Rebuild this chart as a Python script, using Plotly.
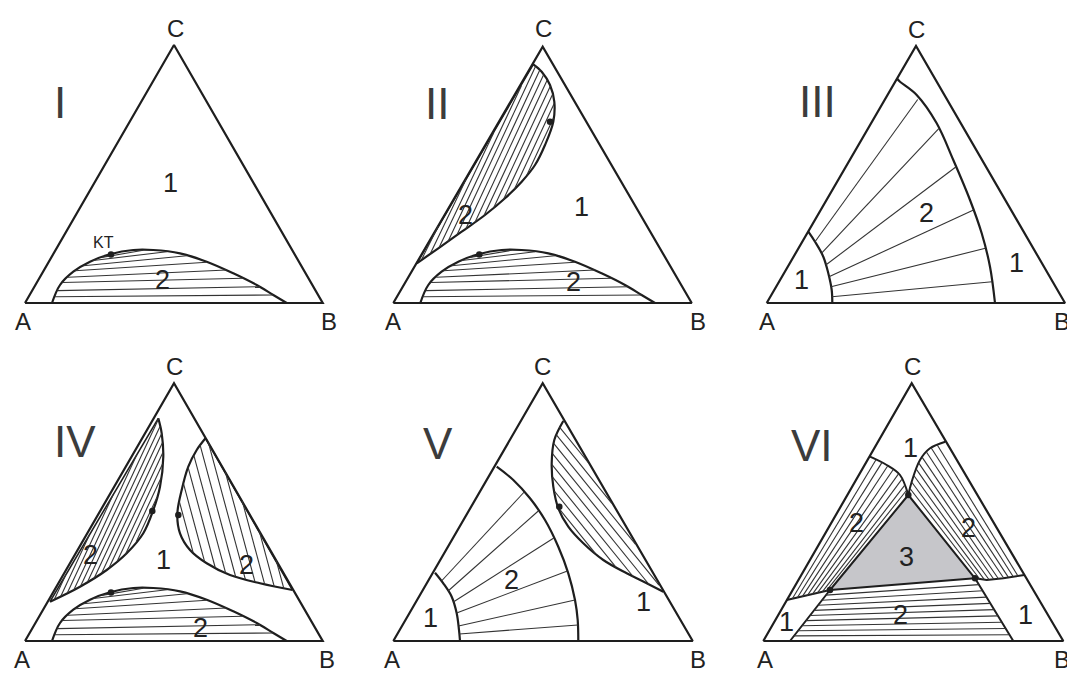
import plotly.graph_objects as go

W, H = 1075, 675
PAD = 8  # the page body offsets the figure by this much
INK = "#1e1e1e"
TIE = "#333333"
GREY = "#c6c6ca"

# triangle vertices of the six panels, picture pixels (A, B on the base, C on top)
PANEL = ["I", "II", "III", "IV", "V", "VI"]
AX = [25, 393.3, 766.7, 25, 393.3, 763.3]
AY = [303, 303, 303, 641, 641, 641]
BX = [322.7, 691.7, 1065, 322.7, 692.7, 1063.3]
CX = [174, 542.7, 916, 174, 542.7, 911.7]
CY = [45, 46.7, 46, 383.3, 383.3, 383.3]

# all curves below: u = px right of vertex A, v = px above the base

# bottom binodal (panels I, II, IV)
DOME_U = [27, 35, 48.3, 65, 85, 108.3, 128.3, 155, 181.7, 208.3, 231.7, 248.3, 261.7]
DOME_V = [0, 18, 31.3, 41.3, 48.7, 53, 53, 49.7, 41.3, 29.7, 18, 8, 0]
DOME_TIE_U0 = [29.8, 32.5, 37.5, 43, 50, 58.3, 68.3, 76.7]
DOME_TIE_V0 = [6.3, 12.4, 20.5, 25.7, 32.3, 37.3, 42.5, 45.6]
DOME_TIE_U1 = [248.3, 235, 218.3, 201.7, 181.7, 161.7, 141.7, 118.3]
DOME_TIE_V1 = [8, 16.3, 24.7, 33, 40.7, 47.3, 51.3, 52.7]
DOME_KT = (86, 48.5)

# panel II: lens along side AC
LENS2_U = [23.5, 45, 68.4, 91.7, 111.7, 128.4, 141.7, 151.7, 160, 161, 156.7, 148.4, 140, 23.5]
LENS2_V = [39.7, 54.7, 71.3, 88, 104.7, 121.3, 138, 158, 181.3, 201.3, 218, 231.3, 238.7, 39.7]
LENS2_TIE_U0 = [28.6, 37.1, 45.7, 54.7, 63.6, 72.6, 81.7, 90.6, 100.4, 110.2, 121.2, 133.5]
LENS2_TIE_V0 = [44.1, 49.6, 55.2, 61.6, 67.9, 74.3, 80.8, 87.2, 95.3, 103.5, 114.1, 127.7]
LENS2_TIE_U1 = [45, 72.8, 100.5, 128, 142.3, 146.5, 150.3, 153.8, 157, 159.2, 160.9, 160.2]
LENS2_TIE_V1 = [77.1, 123.7, 170.4, 217.1, 236.7, 232.9, 228.2, 222.7, 216.8, 208.5, 199.4, 184.9]
LENS2_CP = (156.7, 181.3)

# panel III: two boundary arcs and tie lines
ARC3A_U = [41.6, 48.3, 56.6, 61.6, 65, 65.6]
ARC3A_V = [71.3, 61.3, 46.3, 29.7, 13, 0]
ARC3B_U = [130, 133.3, 150, 170, 186.6, 203.3, 215, 223.3, 228.3]
ARC3B_V = [224.7, 221.3, 208, 179.7, 143, 103, 69.7, 36.3, 0]
TIE3_U0 = [48.3, 54.7, 59.1, 62.3, 64.3, 65.3]
TIE3_V0 = [61.3, 49.7, 38, 26.3, 16.3, 6.3]
TIE3_U1 = [151, 172.3, 189.4, 206.8, 218.7, 225.4]
TIE3_V1 = [203.5, 174.7, 136.3, 93, 54.7, 21.3]

# panel IV: lens along AC and lens along BC
LENS4L_U = [25, 55, 81.7, 101.7, 118.3, 128.3, 135, 138.3, 136.7, 133.3, 25]
LENS4L_V = [39.3, 54.3, 71, 87.7, 107.7, 131, 154.3, 184.3, 207.7, 222.7, 39.3]
LENS4L_TIE_U0 = [29.3, 35.8, 42.3, 48.9, 55.4, 62.5, 69.5, 76.6, 84, 92.2, 100.4, 111.2]
LENS4L_TIE_V0 = [41.5, 44.7, 47.9, 51.2, 54.6, 59, 63.4, 67.8, 72.9, 79.8, 86.6, 99.2]
LENS4L_TIE_U1 = [40.7, 64.4, 88.1, 111.8, 133.5, 135.1, 136.7, 137.4, 138, 137.5, 136, 132]
LENS4L_TIE_V1 = [65.9, 106, 146.2, 186.3, 222, 214.8, 207.5, 198.2, 188.8, 177, 163, 143.8]
LENS4L_CP = (127.3, 130)
LENS4R_U = [180.5, 171.7, 163.3, 156.7, 152.3, 155, 165, 181.7, 205, 235, 267.5, 180.5]
LENS4R_V = [202.7, 191, 174.3, 151, 126.7, 107.7, 91, 77.7, 66, 57.7, 51, 202.7]
LENS4R_TIE_U0 = [154.5, 158.5, 163.1, 168.9, 175.1, 183.4, 200.3, 217.3, 234.1, 251]
LENS4R_TIE_V0 = [138.9, 157.3, 173.6, 185.4, 195.8, 198.4, 169.1, 139.8, 110.6, 81.3]
LENS4R_TIE_U1 = [168.1, 179.6, 190.2, 200.6, 210.6, 220.3, 230, 239.7, 249.2, 258.8]
LENS4R_TIE_V1 = [88.6, 79.4, 73.5, 68.2, 64.5, 61.8, 59.1, 56.7, 54.7, 52.7]
LENS4R_CP = (153.3, 126)

# panel V
ARC5A_U = [41.7, 50, 58.4, 63.4, 65.7, 66.7]
ARC5A_V = [68.3, 57.7, 44.3, 27.7, 11, 0]
ARC5B_U = [103.4, 120, 136.7, 151.7, 165, 175, 181.7, 184.4, 185]
ARC5B_V = [174.3, 161, 142.7, 121, 94.3, 67.7, 41, 21, 0]
TIE5_U0 = [48.2, 54.8, 60, 63.3, 65.2, 66]
TIE5_V0 = [60, 50, 39, 28, 15, 7]
TIE5_U1 = [130.9, 145, 160.5, 174.1, 181.7, 184.5]
TIE5_V1 = [149, 130, 103, 70, 41, 16]
LENS5_U = [170, 161, 158.4, 160, 165, 175, 190, 210, 233.4, 253.4, 270, 170]
LENS5_V = [220, 201, 177.7, 154.3, 132.7, 114.3, 97.7, 81, 67.7, 57.7, 49.3, 220]
LENS5_TIE_U0 = [164.8, 161, 159.3, 158.5, 159.4, 160.6, 163.1, 166.2]
LENS5_TIE_V0 = [133.6, 150, 163.8, 176.6, 187.1, 197.4, 206.1, 213.9]
LENS5_TIE_U1 = [202, 222.8, 239.8, 255.7, 265.7, 242.1, 218.5, 194.9]
LENS5_TIE_V1 = [87.7, 73.7, 64.5, 56.5, 55.9, 96.8, 137.6, 178.5]
LENS5_CP = (166, 134.3)

# panel VI: three-phase triangle and its surroundings
TRI3_U = [145, 66.7, 211.7, 145]
TRI3_V = [146, 51, 62.7, 146]
VI_TL_U = [106.7, 123.4, 136.7, 145]
VI_TL_V = [184.3, 176, 166, 146]
VI_TR_U = [145, 148.4, 156.7, 166.7, 182]
VI_TR_V = [146, 159.3, 181, 192.7, 199.3]
VI_BL_U = [23.4, 46.7, 66.7, 26.7]
VI_BL_V = [41, 46, 51, 0]
VI_BR_U = [250, 211.7, 223.4, 240, 261]
VI_BR_V = [0, 62.7, 61, 62.7, 66]
VI_L_TIE_U0 = [29, 34, 39, 44, 49, 54, 59, 63]
VI_L_TIE_V0 = [42.2, 43.3, 44.4, 45.4, 46.6, 47.8, 49.1, 50.1]
VI_L_TIE_U1 = [112.7, 118.6, 124.5, 129.8, 135.2, 138.5, 141.1, 143.1]
VI_L_TIE_V1 = [181.3, 178.4, 175.2, 171.2, 167.1, 161.6, 155.4, 150.5]
VI_R_TIE_U0 = [146.7, 148.3, 150.7, 153.1, 155.5, 158.9, 163.3, 167.8, 173.8]
VI_R_TIE_V0 = [152.5, 159, 165.3, 171.6, 177.9, 183.6, 188.7, 193.2, 196.2]
VI_R_TIE_U1 = [216.4, 221.1, 225.8, 230.5, 235.1, 240.5, 245.1, 249.8, 254.5]
VI_R_TIE_V1 = [62, 61.3, 61.2, 61.7, 62.2, 62.8, 63.6, 64.5, 65.3]
VI_B_TIE_U0 = [30.7, 34.7, 38.7, 42.7, 46.7, 50.7, 54.7, 58.7, 62.7]
VI_B_TIE_V0 = [5.1, 10.2, 15.3, 20.4, 25.5, 30.6, 35.7, 40.8, 45.9]
VI_B_TIE_U1 = [246.2, 242.3, 238.5, 234.7, 230.9, 227, 223.2, 219.4, 215.5]
VI_B_TIE_V1 = [6.3, 12.5, 18.8, 25.1, 31.4, 37.6, 43.9, 50.2, 56.4]
VI_POINTS_U = [145, 66.7, 211.7]
VI_POINTS_V = [146, 51, 62.7]

# text labels, picture pixels
LABEL_TEXT = ["C", "A", "B", "C", "A", "B", "C", "A", "B",
              "C", "A", "B", "C", "A", "B", "C", "A", "B"]
LABEL_X = [175, 23, 328.5, 543.3, 393.3, 698.3, 916, 766.7, 1062,
           174, 22, 326.7, 542.7, 392, 698.3, 912.7, 765, 1062]
LABEL_Y = [28, 321, 321, 28.3, 321, 321, 29, 321, 321,
           366.7, 659, 659, 366.7, 659, 659, 366.7, 659, 659]
ROMAN_X = [60, 437, 817, 75, 438.3, 811.7]
ROMAN_Y = [102, 103, 101, 441.7, 443.3, 445]
PHASE_TEXT = ["1", "2", "1", "2", "2", "1", "2", "1",
              "2", "1", "2", "2", "1", "2", "1",
              "1", "2", "2", "3", "2", "1", "1"]
PHASE_X = [170, 162.5, 581.7, 465, 573.3, 801.7, 926.7, 1016.7,
           90, 163.3, 246.7, 200, 430, 511.7, 643.3,
           910, 856.7, 968.3, 906.7, 900, 786.7, 1025]
PHASE_Y = [183, 280, 206.7, 215, 281.7, 280, 213.3, 263.3,
           555, 560, 565, 628.3, 618.3, 580, 601.7,
           448.3, 523.3, 528.3, 556.7, 615, 621.7, 615]


def to_px(p, us, vs):
    return [AX[p] + u for u in us], [AY[p] - v for v in vs]


def segments(p, u0, v0, u1, v1):
    xs, ys = [], []
    for a, b, c, d in zip(u0, v0, u1, v1):
        xa, ya = to_px(p, [a, c], [b, d])
        xs += xa + [None]
        ys += ya + [None]
    return xs, ys


fig = go.Figure()


def add_curve(xs, ys, width=2.2, color=INK, shape="linear", **kw):
    fig.add_trace(go.Scatter(
        x=xs, y=ys, mode="lines",
        line=dict(color=color, width=width, shape=shape),
        hoverinfo="skip", showlegend=False, **kw,
    ))


def add_points(xs, ys):
    fig.add_trace(go.Scatter(
        x=xs, y=ys, mode="markers",
        marker=dict(color=INK, size=6.5),
        hoverinfo="skip", showlegend=False,
    ))


# grey three-phase region first, so lines sit on top
x, y = to_px(5, TRI3_U, TRI3_V)
add_curve(x, y, width=2, fill="toself", fillcolor=GREY)

# triangle frames
for p in range(6):
    add_curve([AX[p], BX[p], CX[p], AX[p]], [AY[p], AY[p], CY[p], AY[p]], width=2.2)

# bottom binodal in I, II, IV
for p in (0, 1, 3):
    x, y = to_px(p, DOME_U, DOME_V)
    add_curve(x, y, shape="spline")
    x, y = segments(p, DOME_TIE_U0, DOME_TIE_V0, DOME_TIE_U1, DOME_TIE_V1)
    add_curve(x, y, width=1.1, color=TIE)
    x, y = to_px(p, [DOME_KT[0]], [DOME_KT[1]])
    add_points(x, y)

# II
x, y = to_px(1, LENS2_U[:-1], LENS2_V[:-1])
add_curve(x, y, shape="spline")
x, y = to_px(1, LENS2_U[-2:], LENS2_V[-2:])
add_curve(x, y, width=1.6)
x, y = segments(1, LENS2_TIE_U0, LENS2_TIE_V0, LENS2_TIE_U1, LENS2_TIE_V1)
add_curve(x, y, width=1.1, color=TIE)
x, y = to_px(1, [LENS2_CP[0]], [LENS2_CP[1]])
add_points(x, y)

# III
for cu, cv in ((ARC3A_U, ARC3A_V), (ARC3B_U, ARC3B_V)):
    x, y = to_px(2, cu, cv)
    add_curve(x, y, shape="spline")
x, y = segments(2, TIE3_U0, TIE3_V0, TIE3_U1, TIE3_V1)
add_curve(x, y, width=1.1, color=TIE)

# IV
for cu, cv in ((LENS4L_U, LENS4L_V), (LENS4R_U, LENS4R_V)):
    x, y = to_px(3, cu[:-1], cv[:-1])
    add_curve(x, y, shape="spline")
    x, y = to_px(3, cu[-2:], cv[-2:])
    add_curve(x, y, width=1.6)
x, y = segments(3, LENS4L_TIE_U0, LENS4L_TIE_V0, LENS4L_TIE_U1, LENS4L_TIE_V1)
add_curve(x, y, width=1.1, color=TIE)
x, y = segments(3, LENS4R_TIE_U0, LENS4R_TIE_V0, LENS4R_TIE_U1, LENS4R_TIE_V1)
add_curve(x, y, width=1.1, color=TIE)
x, y = to_px(3, [LENS4L_CP[0], LENS4R_CP[0]], [LENS4L_CP[1], LENS4R_CP[1]])
add_points(x, y)

# V
for cu, cv in ((ARC5A_U, ARC5A_V), (ARC5B_U, ARC5B_V)):
    x, y = to_px(4, cu, cv)
    add_curve(x, y, shape="spline")
x, y = segments(4, TIE5_U0, TIE5_V0, TIE5_U1, TIE5_V1)
add_curve(x, y, width=1.1, color=TIE)
x, y = to_px(4, LENS5_U[:-1], LENS5_V[:-1])
add_curve(x, y, shape="spline")
x, y = segments(4, LENS5_TIE_U0, LENS5_TIE_V0, LENS5_TIE_U1, LENS5_TIE_V1)
add_curve(x, y, width=1.1, color=TIE)
x, y = to_px(4, [LENS5_CP[0]], [LENS5_CP[1]])
add_points(x, y)

# VI: the two upper boundaries are smooth arcs, the lower ones have a corner
for cu, cv in ((VI_TL_U, VI_TL_V), (VI_TR_U, VI_TR_V)):
    x, y = to_px(5, cu, cv)
    add_curve(x, y, width=2, shape="spline")
for cu, cv in ((VI_BL_U, VI_BL_V), (VI_BR_U, VI_BR_V)):
    x, y = to_px(5, cu, cv)
    add_curve(x, y, width=2)
for t in ((VI_L_TIE_U0, VI_L_TIE_V0, VI_L_TIE_U1, VI_L_TIE_V1),
          (VI_R_TIE_U0, VI_R_TIE_V0, VI_R_TIE_U1, VI_R_TIE_V1),
          (VI_B_TIE_U0, VI_B_TIE_V0, VI_B_TIE_U1, VI_B_TIE_V1)):
    x, y = segments(5, *t)
    add_curve(x, y, width=1.1, color=TIE)
x, y = to_px(5, VI_POINTS_U, VI_POINTS_V)
add_points(x, y)

FONT = "Liberation Sans, Arial, sans-serif"
for t, x0, y0 in zip(LABEL_TEXT, LABEL_X, LABEL_Y):
    fig.add_annotation(x=x0, y=y0, text=t, showarrow=False,
                       font=dict(family=FONT, size=24, color="#222"))
for t, x0, y0 in zip(PANEL, ROMAN_X, ROMAN_Y):
    fig.add_annotation(x=x0, y=y0, text=t, showarrow=False,
                       font=dict(family=FONT, size=44, color="#3c3c3c"))
for t, x0, y0 in zip(PHASE_TEXT, PHASE_X, PHASE_Y):
    fig.add_annotation(x=x0, y=y0, text=t, showarrow=False,
                       font=dict(family=FONT, size=27, color="#222"))
fig.add_annotation(x=103.5, y=242, text="KT", showarrow=False,
                   font=dict(family=FONT, size=16, color="#222"))

fig.update_layout(
    width=W - PAD, height=H - PAD,
    margin=dict(l=0, r=0, t=0, b=0),
    paper_bgcolor="white", plot_bgcolor="white",
    xaxis=dict(range=[PAD, W], visible=False, fixedrange=True),
    yaxis=dict(range=[H, PAD], visible=False, fixedrange=True),
)
fig.write_html("out.html")
